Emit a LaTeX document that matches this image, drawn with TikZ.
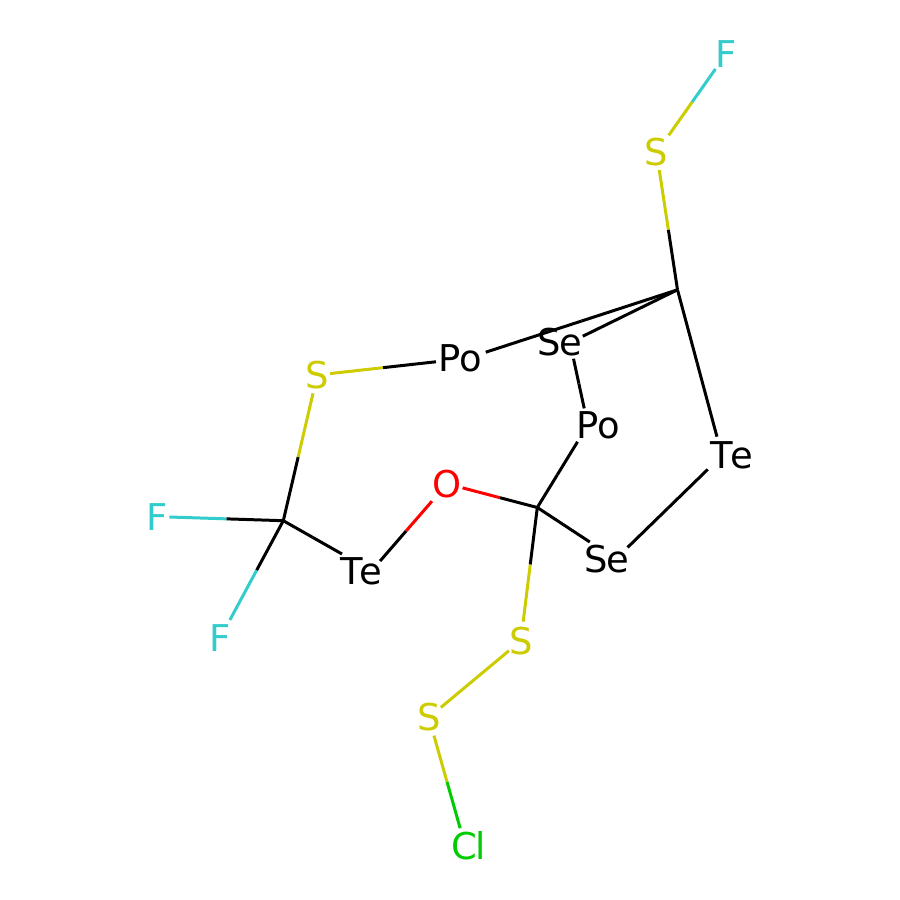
\documentclass[tikz,border=0pt]{standalone}
\usepackage{fontspec}
\setmainfont{DejaVu Sans}
\usetikzlibrary{calc}
\definecolor{sulfur}{HTML}{CCCC00}
\definecolor{fluor}{HTML}{33CCCC}
\definecolor{chlor}{HTML}{00CC00}
\definecolor{oxy}{HTML}{FF0000}
\newlength\pxu
\setlength\pxu{.2845pt}
% text beside the point the bonds aim at
\newcommand{\atomlabel}[2]{\makebox[0pt][c]{\hspace{#1\pxu}\hspace{#1\pxu}#2}}
\tikzset{atom/.style={inner sep=0pt, font=\fontsize{10.5}{12}\selectfont},
 bond/.style={line width=.85pt}}
\begin{document}
\begin{tikzpicture} [x=.01cm, y=-.01cm]
\useasboundingbox (0,0) rectangle (900,900);
\fill[white] (0,0) rectangle (900,900);
\coordinate (ca) at (677.5,289.8);
\coordinate (cb) at (283.3,520.7);
\coordinate (cc) at (537.3,507.5);
\foreach \n/\x/\y/\dx/\lab/\col in {fa/726/54/0/F/fluor, sa/656.6/152.5/0/S/sulfur,
 sea/570/342.5/-10/S\kern-2\pxu e/black, poa/467/358.3/-7/P\kern-1\pxu o/black, sb/317.3/375/0/S/sulfur,
 fb/157.3/516.6/0/F/fluor, fc/220.3/637.8/0/F/fluor, tea/371.6/570.8/-10.4/T\kern-3\pxu e/black,
 oa/447/483.8/0/O/oxy, pob/587.8/425/10.5/P\kern-1\pxu o/black, seb/615.7/559/-8.7/S\kern-2\pxu e/black,
 teb/722/455.5/10/T\kern-3\pxu e/black, sc/520.8/640.8/0/S/sulfur, sd/428.8/717.5/0/S/sulfur,
 cla/465/845.3/3.7/C\kern-1.5\pxu l/chlor} {
 \node[atom, text=\col] (\n) at (\x,\y) {\atomlabel{\dx}{\lab}};
}
% bonds, each in two halves, with the gap left at either end
\foreach \a/\b/\ca/\cb/\sa/\sb in {fa/sa/fluor/sulfur/18.3/21, sa/ca/sulfur/black/17.7/0,
 ca/poa/black/black/0/19.7, ca/sea/black/black/0/14.2, sea/pob/black/black/16.6/17,
 pob/cc/black/black/19.7/0, cc/seb/black/black/0/31, seb/teb/black/black/16.5/19.9,
 teb/ca/black/black/19.5/0, cc/oa/black/oxy/0/16.1, oa/tea/oxy/black/23/12.9,
 tea/cb/black/black/34/0, cb/fb/black/fluor/0/12, cb/fc/black/fluor/0/20.3,
 cb/sb/black/sulfur/0/18.9, sb/poa/sulfur/black/12.9/31.2, cc/sc/black/sulfur/0/19.3,
 sc/sd/sulfur/sulfur/15.5/15.7, sd/cla/sulfur/chlor/18.8/17.7} {
 \coordinate (enda) at ($(\a.center)!\sa*\pxu!(\b.center)$);
 \coordinate (endb) at ($(\b.center)!\sb*\pxu!(\a.center)$);
 \coordinate (mid) at ($(enda)!.5!(endb)$);
 \draw[bond, \ca] (enda) -- (mid);
 \draw[bond, \cb] (mid) -- (endb);
}
\end{tikzpicture}
\end{document}
